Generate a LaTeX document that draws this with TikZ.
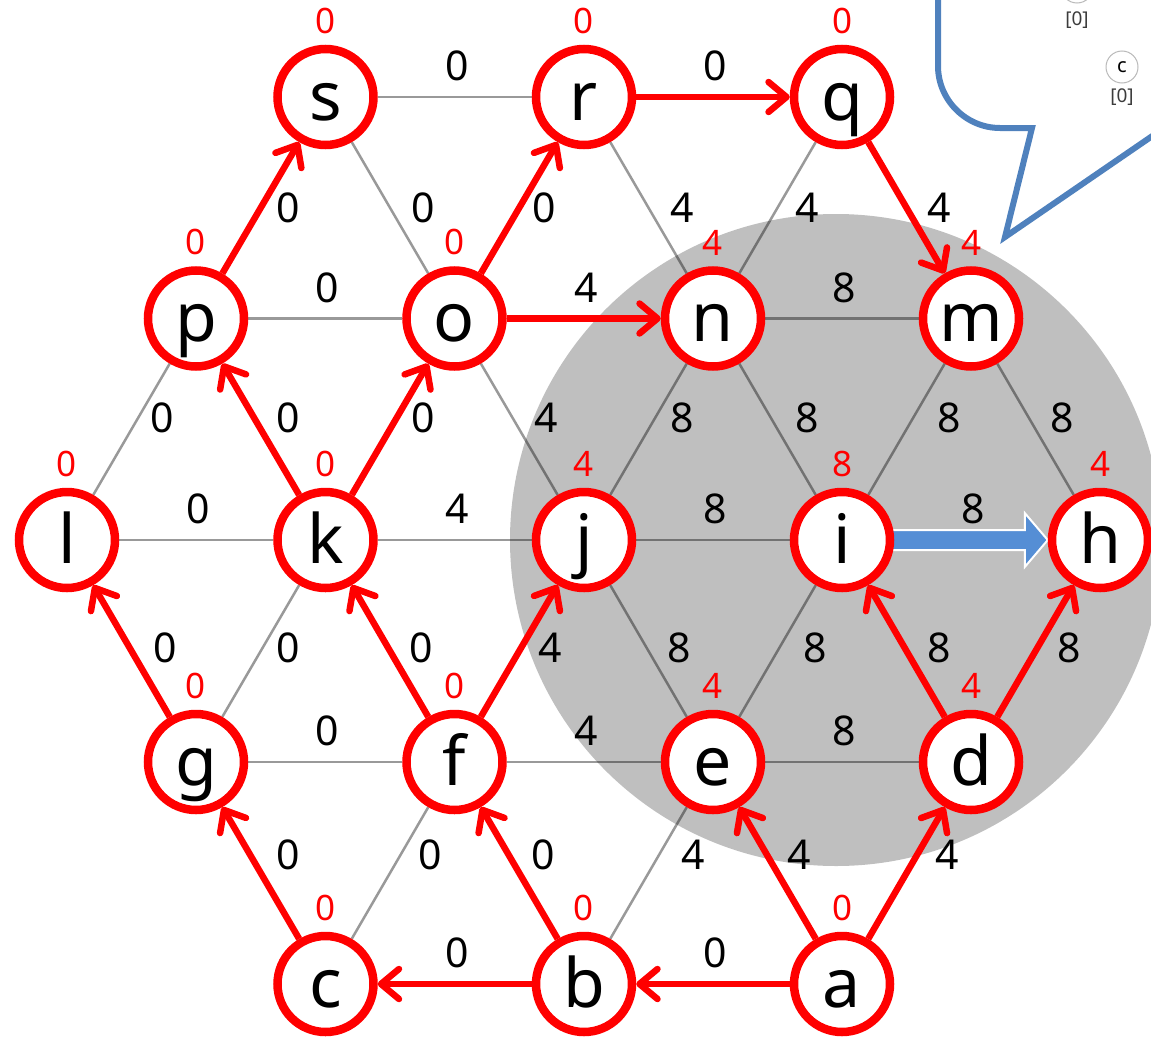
\documentclass[tikz,border=0pt]{standalone}
\usepackage{fontspec}
\setmainfont{Noto Sans}
\usetikzlibrary{arrows.meta,calc}
\pgfdeclarelayer{bg}
\pgfdeclarelayer{edgelayer}
\pgfsetlayers{bg,edgelayer,main}
\definecolor{ared}{RGB}{255,0,0}
\definecolor{discgray}{RGB}{191,191,191}
\definecolor{callblue}{RGB}{79,129,189}
\definecolor{arrblue}{RGB}{85,142,213}
\definecolor{smallgray}{RGB}{185,185,185}
\definecolor{smalltext}{RGB}{60,60,60}
\tikzset{
  vtx/.style={circle, draw=ared, line width=8.5pt, fill=white, minimum size=96pt,
    inner sep=0pt, font=\fontsize{68}{68}\selectfont, text height=46pt, text depth=0pt},
  val/.style={label={[text=ared, font=\fontsize{35}{35}\selectfont, inner sep=0pt,
    label distance=11pt]90:#1}},
  gline/.style={draw=black, draw opacity=0.4, line width=2.5pt},
  rarr/.style={draw=ared, line width=6.5pt, -{Straight Barb[length=18pt,width=30pt,round]}},
  elab/.style={font=\fontsize{41}{41}\selectfont, text=black, inner sep=0pt, opacity=1},
  hl/.style={elab, yshift=31pt, xshift=2pt},
  ra/.style={elab, xshift=#1, yshift=0pt},
  rb/.style={elab, xshift=#1, yshift=11pt},
  rc/.style={elab, xshift=#1, yshift=3pt},
  rd/.style={elab, xshift=#1, yshift=18pt},
  smallc/.style={circle, draw=smallgray, line width=1pt, fill=white, minimum size=32pt,
    inner sep=0pt, font=\fontsize{20}{20}\selectfont},
  smalllab/.style={inner sep=0pt, text=smalltext, font=\fontsize{19}{19}\selectfont},
  callout/.style={draw=callblue, line width=6pt, line join=miter},
}
\begin{document}
\begin{tikzpicture}[x=1pt, y=-1pt]
\useasboundingbox (0,0) rectangle (1151,1036);

\begin{pgfonlayer}{bg}
  \fill[discgray] (836,540) circle[radius=326];
\end{pgfonlayer}

% vertices
\node[vtx, val=0] (s) at (325.5,97) {s};
\node[vtx, val=0] (r) at (584,97) {r};
\node[vtx, val=0] (q) at (842,97) {q};
\node[vtx, val=0] (p) at (196,318.5) {p};
\node[vtx, val=0] (o) at (454.5,318.5) {o};
\node[vtx, val=4] (n) at (713,318.5) {n};
\node[vtx, val=4] (m) at (971,318.5) {m};
\node[vtx, val=0] (l) at (67,540) {l};
\node[vtx, val=0] (k) at (325.5,540) {k};
\node[vtx, val=4] (j) at (584,540) {j};
\node[vtx, val=8] (i) at (842,540) {i};
\node[vtx, val=4] (h) at (1100,540) {h};
\node[vtx, val=0] (g) at (196,762) {g};
\node[vtx, val=0] (f) at (454.5,762) {f};
\node[vtx, val=4] (e) at (713,762) {e};
\node[vtx, val=4] (d) at (971,762) {d};
\node[vtx, val=0] (c) at (325.5,984) {c};
\node[vtx, val=0] (b) at (584,984) {b};
\node[vtx, val=0] (a) at (842,984) {a};

\begin{pgfonlayer}{edgelayer}
  % gray edges
  \draw[gline] (s) -- node[hl]{0} (r);
  \draw[gline] (s) -- node[ra=33pt]{0} (o);
  \draw[gline] (r) -- node[ra=34pt]{4} (n);
  \draw[gline] (q) -- node[ra=30pt]{4} (n);
  \draw[gline] (p) -- node[hl]{0} (o);
  \draw[gline] (p) -- node[rb=31pt]{0} (l);
  \draw[gline] (o) -- node[rb=27pt]{4} (j);
  \draw[gline] (n) -- node[hl]{8} (m);
  \draw[gline] (n) -- node[rb=34pt]{8} (j);
  \draw[gline] (n) -- node[rb=30pt]{8} (i);
  \draw[gline] (m) -- node[rb=43pt]{8} (i);
  \draw[gline] (m) -- node[rb=27pt]{8} (h);
  \draw[gline] (l) -- node[hl]{0} (k);
  \draw[gline] (k) -- node[hl]{4} (j);
  \draw[gline] (k) -- node[rc=27pt]{0} (g);
  \draw[gline] (j) -- node[hl]{8} (i);
  \draw[gline] (j) -- node[rc=31pt]{8} (e);
  \draw[gline] (i) -- node[rc=38pt]{8} (e);
  \draw[gline] (g) -- node[hl]{0} (f);
  \draw[gline] (f) -- node[hl]{4} (e);
  \draw[gline] (f) -- node[rd=40pt]{0} (c);
  \draw[gline] (e) -- node[hl]{8} (d);
  \draw[gline] (e) -- node[rd=45pt]{4} (b);

  % red arrows
  \draw[rarr] (p) -- node[ra=27pt]{0} (s);
  \draw[rarr] (o) -- node[ra=25pt]{0} (r);
  \draw[rarr] (r) -- node[hl]{0} (q);
  \draw[rarr] (q) -- node[ra=33pt]{4} (m);
  \draw[rarr] (o) -- node[hl]{4} (n);
  \draw[rarr] (k) -- node[rb=27pt]{0} (p);
  \draw[rarr] (k) -- node[rb=33pt]{0} (o);
  \draw[rarr] (f) -- node[rc=31pt]{0} (k);
  \draw[rarr] (f) -- node[rc=31pt]{4} (j);
  \draw[rarr] (g) -- node[rc=34pt]{0} (l);
  \draw[rarr] (c) -- node[rd=27pt]{0} (g);
  \draw[rarr] (b) -- node[hl]{0} (c);
  \draw[rarr] (b) -- node[rd=24pt]{0} (f);
  \draw[rarr] (a) -- node[hl]{0} (b);
  \draw[rarr] (a) -- node[rd=22pt]{4} (e);
  \draw[rarr] (a) -- node[rd=41pt]{4} (d);
  \draw[rarr] (d) -- node[rc=33pt]{8} (i);
  \draw[rarr] (d) -- node[rc=34pt]{8} (h);

  % blue block arrow i -> h
  \filldraw[fill=arrblue, draw=white, line width=2pt, line join=miter]
    ($(i.east)+(-8,-10)$) -- ($(h.west)+(-23,-10)$) -- ($(h.west)+(-23,-27)$)
    -- (h.west) -- ($(h.west)+(-23,27)$) -- ($(h.west)+(-23,10)$)
    -- ($(i.east)+(-8,10)$) -- cycle;
  \path (i) -- node[hl]{8} (h);
\end{pgfonlayer}

% callout
\draw[callout] (938,-20) -- (938,66) .. controls (938,100) and (966,128) .. (1000,128)
  -- (1032,128) -- (1005,237) -- (1180,117);
\node[smallc] (ctop) at (1077,-13) {};
\node[smalllab] (ctopv) at (1077,20) {[0]};
\node[smallc] (cc) at (1122,67) {c};
\node[smalllab] (ccv) at (1122,97) {[0]};
\end{tikzpicture}
\end{document}
